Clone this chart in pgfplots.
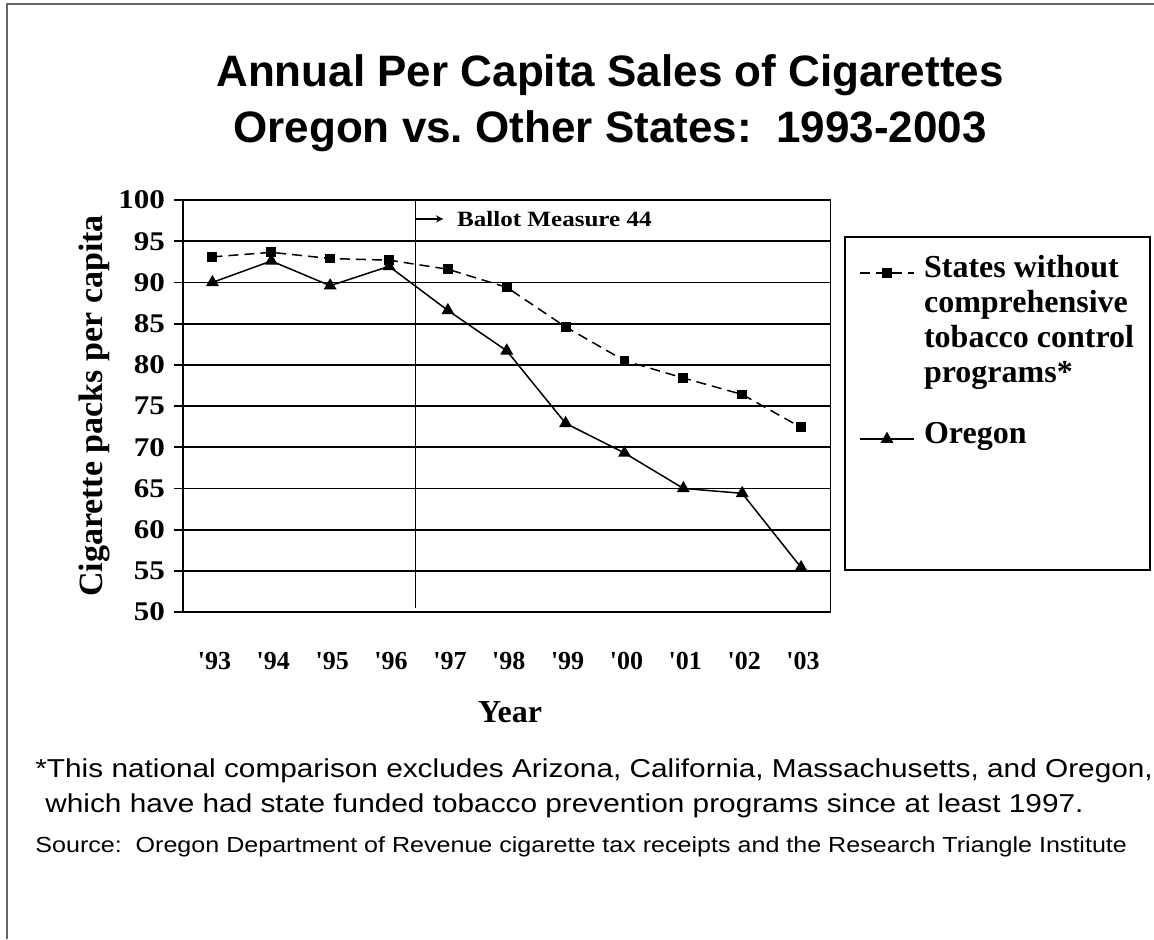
\documentclass[border=0pt]{standalone}
\usepackage{pgfplots}
\pgfplotsset{compat=1.18}
\usepackage{fontspec}
\setmainfont{Liberation Serif}
\newfontfamily\arial{Liberation Sans}
\newfontfamily\arialw[FakeStretch=1.15]{Liberation Sans}
\newfontfamily\tnrw[FakeStretch=1.15]{Liberation Serif}
\begin{document}
\begin{tikzpicture}
\useasboundingbox (0,0) rectangle (577pt,469.5pt);
\draw[black!60, line width=0.9pt] (3.5pt,0) -- (3.5pt,467.5pt) -- (577pt,467.5pt);
\node[font=\arial\bfseries\fontsize{22}{28}\selectfont, align=center] at (305pt,418pt)
  {Annual Per Capita Sales of Cigarettes\\Oregon vs.\ Other States:\ \ 1993-2003};
\node[anchor=base west, font=\arialw\fontsize{12.95}{15}\selectfont, inner sep=0pt] at (17.5pt,81pt)
  {*This national comparison excludes Arizona, California, Massachusetts, and Oregon,};
\node[anchor=base west, font=\arialw\fontsize{12.95}{15}\selectfont, inner sep=0pt] at (22.5pt,63.5pt)
  {which have had state funded tobacco prevention programs since at least 1997.};
\node[anchor=base west, font=\arialw\fontsize{10.9}{13}\selectfont, inner sep=0pt] at (17.5pt,43.5pt)
  {Source:\ \ Oregon Department of Revenue cigarette tax receipts and the Research Triangle Institute};
\begin{axis}[
  at={(91.5pt,163.5pt)}, anchor=south west,
  scale only axis, width=323.75pt, height=206pt,
  xmin=-0.5, xmax=10.5, ymin=50, ymax=100,
  axis line style={line width=0.9pt},
  ytick={50,55,...,100},
  xtick={0,1,...,10},
  xticklabels={\textquotesingle93,\textquotesingle94,\textquotesingle95,\textquotesingle96,\textquotesingle97,\textquotesingle98,\textquotesingle99,\textquotesingle00,\textquotesingle01,\textquotesingle02,\textquotesingle03},
  ymajorgrids, major grid style={black, line width=0.9pt},
  x tick style={draw=none},
  y tick style={black, line width=0.9pt},
  ytick pos=left,
  tick align=outside, major tick length=4.5pt,
  /pgf/number format/assume math mode=true,
  yticklabel style={font=\tnrw\bfseries\fontsize{13.5}{15}\selectfont, xshift=-1pt},
  xticklabel style={font=\bfseries\fontsize{13}{15}\selectfont, yshift=-12pt, xshift=1pt},
  ylabel={Cigarette packs per capita},
  ylabel style={font=\bfseries\fontsize{17}{19}\selectfont, at={(axis description cs:-0.137,0.5)}, anchor=center},
  xlabel={Year},
  xlabel style={font=\bfseries\fontsize{16}{18}\selectfont, at={(axis description cs:0.505,-0.243)}, anchor=center},
  legend style={draw=none, fill=none, at={(axis description cs:1.034,0.861)}, anchor=north west,
    font=\bfseries\fontsize{16}{17.5}\selectfont, row sep=71.5pt, column sep=2.5pt},
  legend cell align=left,
  legend image code/.code={\draw[mark repeat=2,mark phase=2] plot coordinates {(0cm,0cm)(0.48cm,0cm)(0.96cm,0cm)};},
  clip=false,
]
\addplot[black, line width=0.75pt, dash pattern=on 5pt off 3pt, mark=square*, mark size=2.1pt, mark options={solid}]
  coordinates {(0,93.1)(1,93.65)(2,92.9)(3,92.7)(4,91.6)(5,89.4)(6,84.6)(7,80.5)(8,78.4)(9,76.4)(10,72.4)};
\addlegendentry{\raisebox{0pt}[6pt][0pt]{\begin{tabular}[t]{@{}l@{}}States without\\comprehensive\\tobacco control\\programs*\end{tabular}}}
\addplot[black, line width=0.75pt, mark=triangle*, mark size=3pt]
  coordinates {(0,90.0)(1,92.6)(2,89.6)(3,91.95)(4,86.6)(5,81.7)(6,72.9)(7,69.3)(8,65.0)(9,64.4)(10,55.4)};
\addlegendentry{\raisebox{0pt}[6pt][0pt]{Oregon}}
\draw[line width=1.4pt] (axis description cs:0,0) -- (axis description cs:0,1);
\draw[line width=0.6pt] (axis cs:3.45,100) -- (axis cs:3.45,50.5);
\draw[-stealth, line width=0.6pt] (axis cs:3.45,97.7) -- (axis cs:3.92,97.7);
\node[anchor=west, inner sep=0pt, font=\tnrw\bfseries\fontsize{10.9}{13}\selectfont] at (axis cs:4.15,97.7) {Ballot Measure 44};
\draw[line width=0.8pt] (axis description cs:1.0224,0.910) rectangle (axis description cs:1.4934,0.102);
\end{axis}
\end{tikzpicture}
\end{document}
